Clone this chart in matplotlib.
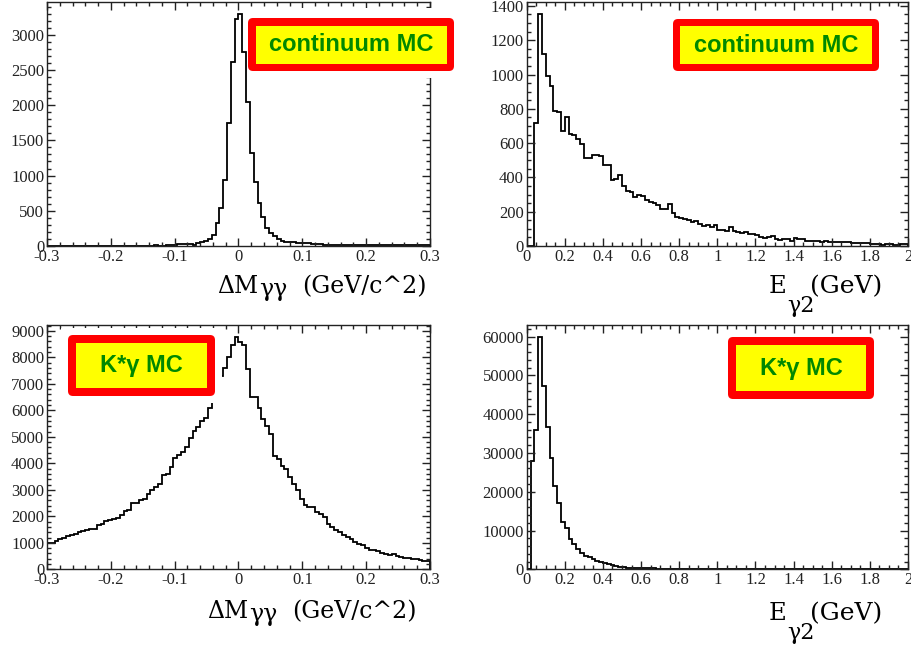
import matplotlib
matplotlib.use('Agg')
import matplotlib.pyplot as plt
import numpy as np
from matplotlib.patches import FancyBboxPatch, Rectangle
from matplotlib.ticker import MultipleLocator, FormatStrFormatter
from matplotlib.transforms import IdentityTransform

plt.rcParams['font.family'] = ['Liberation Serif', 'DejaVu Serif']
plt.rcParams['axes.unicode_minus'] = False

W, H = 912, 649

# histogram ranges (100 bins each)
dm_range = (-0.3, 0.3)
e_range = (0.0, 2.0)

# continuum MC, delta M_gg
dm_cont = [0, 3, 5, 2, 0, 4, 6, 3, 0, 2, 5, 0, 3, 4, 2, 6, 3, 5, 4, 2,
           6, 4, 3, 5, 7, 4, 6, 5, 8, 6, 7, 9, 10, 12,
           25, 28, 30, 26, 18, 40, 58, 72, 95, 160,
           320, 535, 940, 1745, 2620, 3220, 3300, 2760, 2050, 1317,
           915, 607, 408, 250, 180, 142, 100, 75, 62, 58,
           50, 47, 45, 40, 36, 30,
           24, 22, 20, 21, 19, 20, 18, 19, 17, 18, 20, 16, 17, 15, 16,
           14, 12, 13, 11, 12, 10, 12, 11, 9, 10, 11, 9, 8, 10, 9]

# continuum MC, E_g2
e_cont = [0, 0, 720, 1355, 1120, 990, 935, 790, 780, 670,
          750, 655, 645, 625, 595, 514, 514, 533, 528, 523,
          475, 470, 387, 390, 416, 348, 318, 315, 285, 299,
          290, 270, 254, 250, 240, 215, 215, 246, 191, 170,
          162, 158, 150, 140, 145, 128, 118, 120, 112, 122,
          95, 94, 88, 108, 85, 80, 78, 82, 72, 70,
          66, 55, 48, 50, 58, 38, 36, 42, 40, 32,
          45, 38, 42, 30, 28, 30, 27, 25, 28, 24,
          26, 22, 25, 21, 23, 20, 18, 20, 17, 15,
          12, 10, 14, 8, 9, 11, 7, 6, 9, 10]

# K*gamma MC, delta M_gg
dm_ksg = [1000, 1000, 1060, 1160, 1200, 1250, 1300, 1349, 1411, 1450,
          1499, 1510, 1536, 1686, 1700, 1811, 1850, 1911, 1950, 2036,
          2199, 2250, 2499, 2520, 2599, 2650, 2824, 2999, 3100, 3224,
          3540, 3600, 3850, 4200, 4300, 4410, 4600, 4970, 5220, 5370,
          5600, 5700, 6100, 6500, 6900, 7290, 7600, 8000, 8450, 8780,
          8570, 8470, 7540, 6500, 6500, 6100, 5661, 5411, 5099, 4286,
          4161, 3900, 3786, 3474, 3224, 2974, 2661, 2411, 2349, 2349,
          2161, 2099, 1974, 1724, 1599, 1499, 1420, 1286, 1224, 1136,
          1036, 949, 900, 786, 724, 710, 699, 599, 560, 536,
          561, 500, 449, 411, 411, 400, 374, 340, 324, 320]

# K*gamma MC, E_g2
e_ksg = [0, 28000, 35850, 60000, 47200, 36700, 28700, 21400, 17060, 12200,
         10700, 7900, 6650, 5120, 4270, 3500, 3080, 2560, 2250, 1960,
         1540, 1300, 1110, 800, 680, 510, 420, 380, 350, 320,
         300, 280, 260, 240, 200, 170, 150, 140, 130, 125,
         115, 110, 100, 95, 90, 85, 80, 75, 70, 68,
         64, 60, 57, 54, 50, 48, 45, 43, 40, 38,
         36, 34, 32, 30, 29, 27, 26, 24, 23, 22,
         21, 20, 19, 18, 17, 16, 15, 15, 14, 13,
         12, 12, 11, 10, 10, 9, 9, 8, 8, 7,
         7, 6, 6, 5, 5, 5, 4, 4, 3, 3]

fig = plt.figure(figsize=(W / 100, H / 100), dpi=100)


def panel(rect, rng, counts, xmaj, xmin, ymaj, ymin):
    ax = fig.add_axes(rect)
    edges = np.linspace(rng[0], rng[1], len(counts) + 1)
    ax.stairs(counts, edges, color='black', lw=1.3)
    ax.set_xlim(rng)
    ax.set_ylim(0, 1.05 * max(counts))
    ax.xaxis.set_major_locator(MultipleLocator(xmaj))
    ax.xaxis.set_minor_locator(MultipleLocator(xmin))
    ax.yaxis.set_major_locator(MultipleLocator(ymaj))
    ax.yaxis.set_minor_locator(MultipleLocator(ymin))
    ax.xaxis.set_major_formatter(FormatStrFormatter('%g'))
    ax.tick_params(which='both', direction='in', top=True, right=True,
                   color='#222222', width=1.0, labelsize=12,
                   labelcolor='#222222', pad=2)
    ax.tick_params(which='major', length=6)
    ax.tick_params(which='minor', length=3)
    for s in ax.spines.values():
        s.set_linewidth(1.0)
        s.set_color('#222222')
    return ax


ax1 = panel([47 / W, 1 - 246 / H, 383 / W, 244 / H], dm_range, dm_cont,
            0.1, 0.02, 500, 100)
ax2 = panel([526.7 / W, 1 - 246 / H, 381.3 / W, 244 / H], e_range, e_cont,
            0.2, 0.05, 200, 50)
ax3 = panel([47 / W, 1 - 569.3 / H, 383 / W, 244.3 / H], dm_range, dm_ksg,
            0.1, 0.02, 1000, 200)
ax4 = panel([526.7 / W, 1 - 569.3 / H, 381.3 / W, 244.3 / H], e_range, e_ksg,
            0.2, 0.05, 10000, 2000)

title_font = ['DejaVu Serif']


def dm_label(x_right, y_base):
    fig.text(x_right / W, 1 - y_base / H, '(GeV/c^2)', ha='right', va='baseline',
             fontsize=17, family=title_font)
    fig.text((x_right - 168) / W, 1 - (y_base + 3) / H, 'γγ', ha='left',
             va='baseline', fontsize=17, family=title_font)
    fig.text((x_right - 169) / W, 1 - y_base / H, 'ΔM', ha='right', va='baseline',
             fontsize=17, family=title_font)


def e_label(y_base):
    fig.text(769 / W, 1 - y_base / H, 'E', ha='left', va='baseline', fontsize=17.5,
             family=title_font)
    fig.text(787 / W, 1 - (y_base + 19) / H, 'γ2', ha='left', va='baseline',
             fontsize=16, family=title_font)
    fig.text(810 / W, 1 - y_base / H, '(GeV)', ha='left', va='baseline', fontsize=18,
             family=title_font)


dm_label(427, 293)
dm_label(417, 618)
e_label(293)
e_label(620)


def tag(x0, y0, x1, y1, bw, text, halo):
    # white backing, red rounded frame, yellow inside, green text
    hl, ht, hr, hb = halo
    fig.add_artist(Rectangle((x0 - hl, H - y1 - hb), x1 - x0 + hl + hr, y1 - y0 + ht + hb,
                             transform=IdentityTransform(), facecolor='white',
                             edgecolor='none', zorder=5))
    fig.add_artist(FancyBboxPatch((x0, H - y1), x1 - x0, y1 - y0,
                                  boxstyle='round,pad=0,rounding_size=5',
                                  transform=IdentityTransform(), facecolor='#ff0000',
                                  edgecolor='none', zorder=6))
    fig.add_artist(Rectangle((x0 + bw, H - y1 + bw), x1 - x0 - 2 * bw, y1 - y0 - 2 * bw,
                             transform=IdentityTransform(), facecolor='#ffff00',
                             edgecolor='none', zorder=7))
    fig.text((x0 + x1) / 2 / W, 1 - (y0 + y1) / 2 / H, text, ha='center', va='center',
             family=['Liberation Sans', 'DejaVu Sans'], weight='bold', fontsize=17,
             color='#008800', zorder=8)


tag(248, 18, 454, 71, 7.5, 'continuum MC', (0, 10, 10, 7))
tag(673, 19, 879, 71, 7, 'continuum MC', (3, 3, 3, 3))
tag(68, 335, 215, 396, 8, 'K*γ MC', (7, 7, 7, 7))
tag(728, 337, 874, 399, 8, 'K*γ MC', (3, 3, 3, 3))

fig.savefig('out.png', dpi=100)
